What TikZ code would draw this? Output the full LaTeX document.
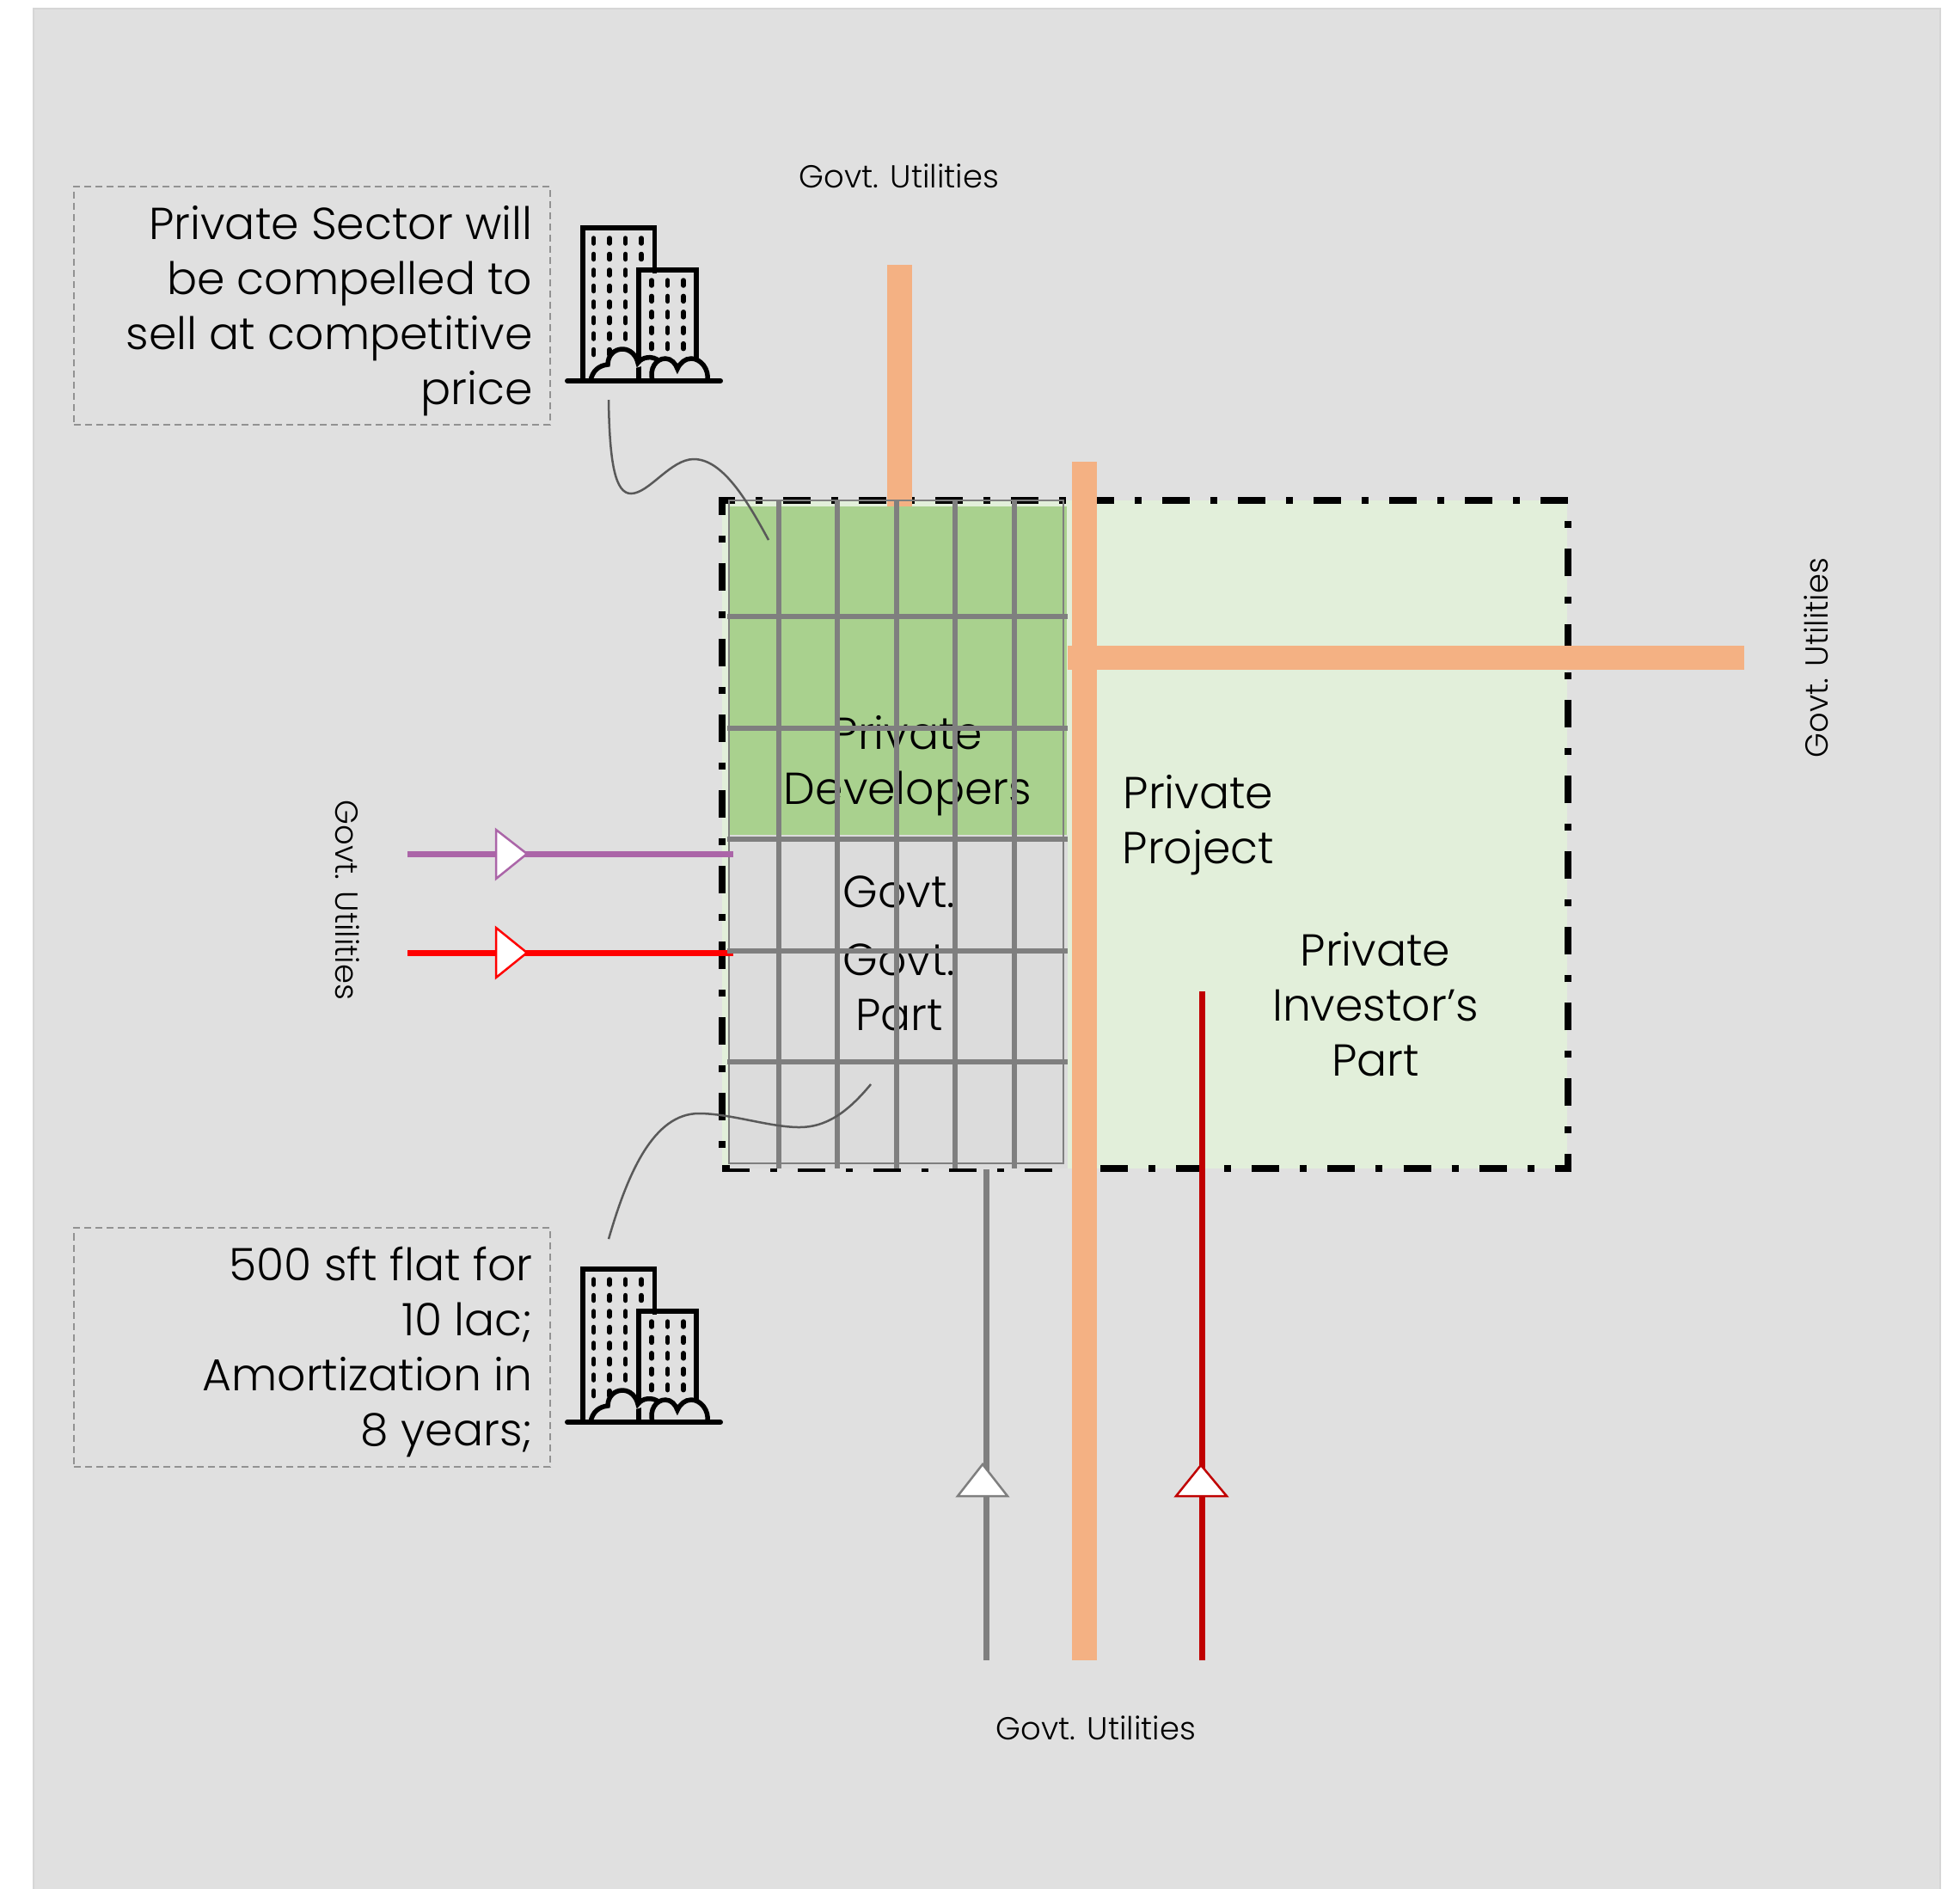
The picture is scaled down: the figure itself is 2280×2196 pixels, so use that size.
\documentclass[tikz,border=0pt]{standalone}
\usepackage{fontspec}
\setmainfont{Poppins Light}
\usetikzlibrary{calc,positioning}
\definecolor{cBack}{RGB}{224,224,224}
\definecolor{cEdge}{RGB}{214,214,214}
\definecolor{cLight}{RGB}{226,239,218}
\definecolor{cGreen}{RGB}{169,209,142}
\definecolor{cPart}{RGB}{220,220,220}
\definecolor{cOrange}{RGB}{244,177,131}
\definecolor{cGrid}{RGB}{127,127,127}
\definecolor{cPurple}{RGB}{171,101,168}
\definecolor{cDarkRed}{RGB}{192,0,0}
\definecolor{cCurve}{RGB}{89,89,89}
\tikzset{
  bigtext/.style={font=\fontsize{14.8}{18.2}\selectfont,align=center,inner sep=0pt},
  smalltext/.style={font=\fontsize{10.5}{12}\selectfont,inner sep=0pt},
  notebox/.style={draw=cGrid!85,line width=0.02cm,dash pattern=on 0.08cm off 0.05cm,
    minimum width=5.54cm,minimum height=2.77cm},
  notetext/.style={bigtext,align=right,anchor=east},
  road/.style={fill=cOrange,draw=none},
  gridline/.style={draw=cGrid,line width=0.06cm},
  feed/.style={line width=0.07cm},
  headtri/.style={fill=white,line width=0.025cm},
  callout/.style={draw=cCurve,line width=0.025cm},
  towers/.pic={
    \draw[line width=0.055cm] (21,0) -- (21,-178) -- (104.5,-178) -- (104.5,-125);
    \draw[line width=0.055cm] (86,0) -- (86,-129) -- (153,-129) -- (153,-20);
    \foreach \x/\n in {33.7/8,52/8,70.7/7,89/2}
      \foreach \r in {1,...,\n}
        \draw[line width=0.055cm,line cap=round] (\x,{-166+(\r-1)*18.5}) -- (\x,{-160+(\r-1)*18.5});
    \foreach \x in {101,119.7,138}
      \foreach \r in {1,...,5}
        \draw[line width=0.055cm,line cap=round] (\x,{-117+(\r-1)*18.4}) -- (\x,{-111+(\r-1)*18.4});
    \draw[line width=0.055cm,fill=cBack] (30,0) .. controls (32,-12) and (40,-18) .. (50,-19)
      .. controls (50,-30) and (58,-37) .. (67,-37) .. controls (76,-37) and (83,-30) .. (85,-21)
      .. controls (90,-28) and (102,-30) .. (110,-23);
    \draw[line width=0.055cm,fill=cBack] (102,0) .. controls (98,-14) and (106,-26) .. (117,-26)
      .. controls (124,-26) and (129,-20) .. (131,-14) .. controls (134,-21) and (140,-26) .. (147,-26)
      .. controls (158,-26) and (168,-14) .. (166,0);
    \draw[line width=0.06cm,line cap=round] (3,0) -- (181,0);
  }
}
\begin{document}
\begin{tikzpicture}[x=0.01cm,y=-0.01cm]
  \useasboundingbox (0,0) rectangle (2280,2196);
  \draw[fill=cBack,draw=cEdge,line width=0.02cm] (39,10) rectangle (2257,2200);

  % plot and the two parts
  \fill[cLight] (840,582) rectangle (1823,1359);
  \draw[line width=0.08cm,dash pattern=on 0.32cm off 0.24cm on 0.08cm off 0.24cm]
    (840,1359) -- (1824,1359) -- (1824,582) -- (840,582) -- cycle;
  \fill[cOrange] (1032,308) rectangle (1061,589);
  \fill[cGreen] (849,589) rectangle (1241,971);
  \fill[cPart] (849,971) rectangle (1242,1359);
  \fill[road] (1242,751) rectangle (2029,779);
  \fill[road] (1247,537) rectangle (1276,1931);

  \node[bigtext] (developers) at (1056,891) {Private\\Developers};
  \node[bigtext] (govtA) at (1046,1037) {Govt.};
  \node[bigtext] (govtpart) at (1046,1148) {Govt.\\Part};
  \node[bigtext] (project) at (1394,960) {Private\\Project};
  \node[bigtext] (investor) at (1600,1168) {Private\\Investor’s\\Part};

  % feeds
  \coordinate (purpleA) at (474,993);
  \coordinate (purpleB) at (853,993);
  \coordinate (redA) at (474,1108);
  \coordinate (redB) at (853,1108);
  \coordinate (greyA) at (1147,1931);
  \coordinate (greyB) at (1147,1360);
  \coordinate (darkA) at (1398,1931);
  \coordinate (darkB) at (1398,1153);
  \draw[gridline,line width=0.025cm] (848,582) rectangle (1237,1353);
  \draw[feed,cPurple] (purpleA) -- (purpleB);
  \draw[feed,red] (redA) -- (redB);
  \draw[feed,cGrid] (greyA) -- (greyB);
  \draw[feed,cDarkRed] (darkA) -- (darkB);
  \draw[headtri,draw=cPurple] (577,965) -- (613,993) -- (577,1022) -- cycle;
  \draw[headtri,draw=red] (577,1079) -- (613,1108) -- (577,1137) -- cycle;
  \draw[headtri,draw=cGrid] (1114,1740) -- (1143,1703) -- (1172,1740) -- cycle;
  \draw[headtri,draw=cDarkRed] (1368,1740) -- (1397,1704) -- (1427,1740) -- cycle;

  % grid
  \foreach \x in {906,974,1043,1111,1180}
    \draw[gridline] (\x,582) -- (\x,1359);
  \foreach \y in {717,847,976,1106,1235}
    \draw[gridline] (846,\y) -- (1242,\y);

  % notes
  \node[notebox] (noteA) at (363,355.5) {};
  \node[notebox] (noteB) at (363,1567) {};
  \node[notetext] (textA) at ([xshift=-0.21cm,yshift=-0.06cm]noteA.east) {Private Sector will\\be compelled to\\sell at competitive\\price};
  \node[notetext] (textB) at ([xshift=-0.21cm,yshift=-0.05cm]noteB.east) {500 sft flat for\\10 lac;\\Amortization in\\8 years;};
  \pic at (657,443) {towers};
  \pic at (657,1654) {towers};
  \coordinate (curveA) at (708,465);
  \coordinate (curveB) at (894,628);
  \coordinate (curveC) at (708,1441);
  \coordinate (curveD) at (1013,1261);
  \draw[callout] (curveA) .. controls (709,540) and (716,574) .. (734,574)
    .. controls (755,574) and (780,534) .. (807,534) .. controls (840,534) and (868,580) .. (curveB);
  \draw[callout] (curveC) .. controls (730,1365) and (760,1295) .. (813,1295)
    .. controls (850,1295) and (895,1311) .. (930,1311) .. controls (960,1311) and (985,1295) .. (curveD);

  % labels
  \node[smalltext] (utilTop) at (1046,205) {Govt. Utilities};
  \node[smalltext] (utilBottom) at (1275,2010) {Govt. Utilities};
  \node[smalltext,rotate=90] (utilRight) at (2113,765) {Govt. Utilities};
  \node[smalltext,rotate=-90] (utilLeft) at (404,1047) {Govt. Utilities};
\end{tikzpicture}
\end{document}
